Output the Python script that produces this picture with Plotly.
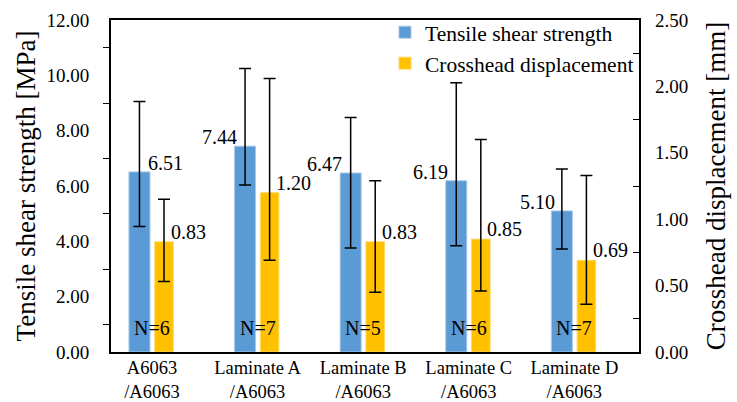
import plotly.graph_objects as go

categories = ["A6063<br>/A6063", "Laminate A<br>/A6063", "Laminate B<br>/A6063",
              "Laminate C<br>/A6063", "Laminate D<br>/A6063"]
strength = [6.51, 7.44, 6.47, 6.19, 5.10]
strength_plus = [2.54, 2.81, 2.01, 3.54, 1.51]
strength_minus = [1.97, 1.40, 2.71, 2.35, 1.38]
displacement = [0.83, 1.20, 0.83, 0.85, 0.69]
disp_plus = [0.32, 0.86, 0.46, 0.75, 0.64]
disp_minus = [0.30, 0.51, 0.38, 0.39, 0.33]
n_counts = [6, 7, 5, 6, 7]

FONT = "Liberation Serif"
BLUE = "#5B9BD5"
ORANGE = "#FFC000"

fig = go.Figure()
fig.add_trace(go.Bar(
    x=categories, y=strength, name="Tensile shear strength",
    marker=dict(color=BLUE, line=dict(color="#a8c8ea", width=1)),
    offset=-0.218, width=0.199,
    error_y=dict(type="data", symmetric=False, array=strength_plus,
                 arrayminus=strength_minus, color="black", thickness=1.5, width=6),
    yaxis="y",
))
fig.add_trace(go.Bar(
    x=categories, y=displacement, name="Crosshead displacement",
    marker=dict(color=ORANGE, line=dict(color="#ffd966", width=1)),
    offset=0.026, width=0.176,
    error_y=dict(type="data", symmetric=False, array=disp_plus,
                 arrayminus=disp_minus, color="black", thickness=1.5, width=6),
    yaxis="y2",
))

annotations = []
blue_center = -0.118
orange_center = 0.114
blue_xshift = [26, -26, -26, -26, -24]
for i, v in enumerate(strength):
    annotations.append(dict(x=i + blue_center, y=v, xref="x", yref="y",
                            text=f"{v:.2f}", showarrow=False,
                            xshift=blue_xshift[i], yshift=9,
                            font=dict(family=FONT, size=20, color="black")))
for i, v in enumerate(displacement):
    annotations.append(dict(x=i + orange_center, y=v, xref="x", yref="y2",
                            text=f"{v:.2f}", showarrow=False,
                            xshift=24, yshift=10,
                            font=dict(family=FONT, size=20, color="black")))
for i, n in enumerate(n_counts):
    annotations.append(dict(x=i, y=0.85, xref="x", yref="y",
                            text=f"N={n}", showarrow=False,
                            font=dict(family=FONT, size=20, color="black")))

fig.update_layout(
    width=737, height=402,
    margin=dict(l=111, r=98, t=17, b=50),
    paper_bgcolor="white", plot_bgcolor="white",
    barmode="overlay",
    font=dict(family=FONT, size=19, color="black"),
    showlegend=True,
    legend=dict(x=1, xanchor="right", y=1.025, yanchor="top",
                bgcolor="rgba(0,0,0,0)", font=dict(family=FONT, size=21.5),
                tracegroupgap=0, itemwidth=30),
    xaxis=dict(range=[-0.388, 4.612], showline=True, linecolor="black", linewidth=2,
               mirror=True, ticks="", showgrid=False, tickfont=dict(size=18.5),
               ticklabelstandoff=-2, automargin=False),
    yaxis=dict(range=[0, 12], dtick=2, tickformat=".2f", showline=True,
               linecolor="black", linewidth=2, mirror=True, ticks="",
               showgrid=False, zeroline=False, ticklabelstandoff=16, automargin=False,
               minor=dict(dtick=1, ticks="outside", ticklen=6, tickcolor="black", tickwidth=1),
               title=dict(text="Tensile shear strength [MPa]", font=dict(size=27), standoff=3)),
    yaxis2=dict(range=[0, 2.5], dtick=0.5, tickformat=".2f", overlaying="y", side="right",
                showline=False, ticks="", showgrid=False, zeroline=False,
                ticklabelstandoff=15, automargin=False,
                minor=dict(dtick=0.25, ticks="inside", ticklen=6, tickcolor="black", tickwidth=1),
                title=dict(text="Crosshead displacement [mm]", font=dict(size=27), standoff=18)),
    annotations=annotations,
)

fig.write_html("out.html")
